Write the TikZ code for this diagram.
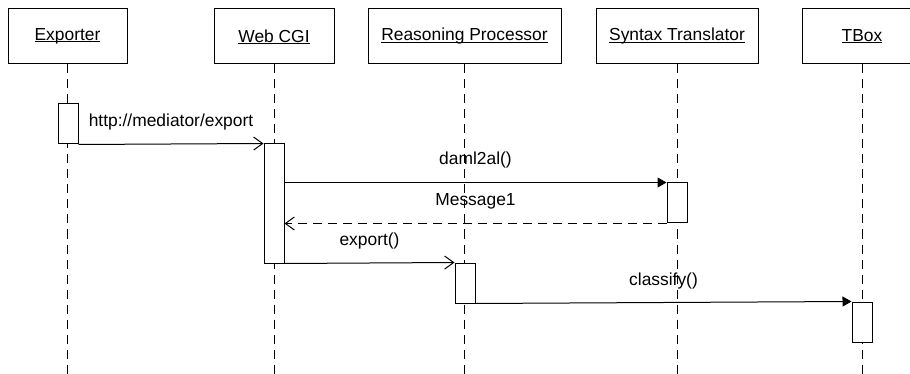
\documentclass[tikz,border=0pt]{standalone}
\usepackage{fontspec}
\setmainfont{Liberation Sans}
\usepackage{tikz}
\usetikzlibrary{arrows.meta}
\newcommand{\objname}[1]{\setbox0=\hbox{#1}\rlap{\rule[-1.6pt]{\wd0}{0.9pt}}\box0}
\tikzset{
	object/.style={draw, line width=1pt, minimum height=55, inner sep=0pt},
	lifeline/.style={line width=1pt, dash pattern=on 9pt off 6pt},
	activation/.style={draw, fill=white, line width=1pt, minimum width=20, inner sep=0pt},
	call/.style={line width=1pt, -{Triangle[length=9pt,width=10pt]}},
	send/.style={line width=1pt, -{Straight Barb[length=9pt,width=13pt]}},
	reply/.style={send, dash pattern=on 9pt off 6pt},
	msg/.style={midway, anchor=base, yshift=17.5pt}
}

\begin{document}
\begin{tikzpicture}[x=1pt, y=-1pt, every node/.style={font=\fontsize{17.4}{20}\selectfont}]
	 		\clip (0,0) rectangle (910,374);
	 		\coordinate (bottom) at (0,374);
	 		\node[object, minimum width=119] (exporter) at (67.5,36.5) {\objname{Exporter}};
	 		\node[object, minimum width=120] (webcgi) at (274,36.5) {\objname{Web CGI}};
	 		\node[object, minimum width=193] (reasoner) at (464.5,36.5) {\objname{Reasoning Processor}};
	 		\node[object, minimum width=162] (translator) at (677,36.5) {\objname{Syntax Translator}};
	 		\node[object, minimum width=120] (tbox) at (862,36.5) {\objname{TBox}};
	 		\foreach \obj in {exporter, webcgi, reasoner, translator, tbox}
	 			\draw[lifeline] (\obj.south) -- (\obj.south |- bottom);
	 		\node[activation, minimum height=40] (exporteract) at (68,124) {};
	 		\node[activation, minimum height=119] (webcgiact) at (274,203.5) {};
	 		\node[activation, minimum height=40] (translatoract) at (677,203) {};
	 		\node[activation, minimum height=40] (reasoneract) at (465,283) {};
	 		\node[activation, minimum height=40] (tboxact) at (862,322) {};
	 		\draw[send] (exporteract.south east) -- (webcgiact.north west) node[msg] {http://mediator/export};
	 		\draw[call] (webcgiact.east |- translatoract.north) -- (translatoract.north west) node[msg] {daml2al()};
	 		\draw[reply] (translatoract.south west) -- (webcgiact.east |- translatoract.south) node[msg] {Message1};
	 		\draw[send] (webcgiact.south east) -- (reasoneract.north west) node[msg] {export()};
	 		\draw[call] (reasoneract.south east) -- (tboxact.north west) node[msg] {classify()};
	 	\end{tikzpicture}
\end{document}
